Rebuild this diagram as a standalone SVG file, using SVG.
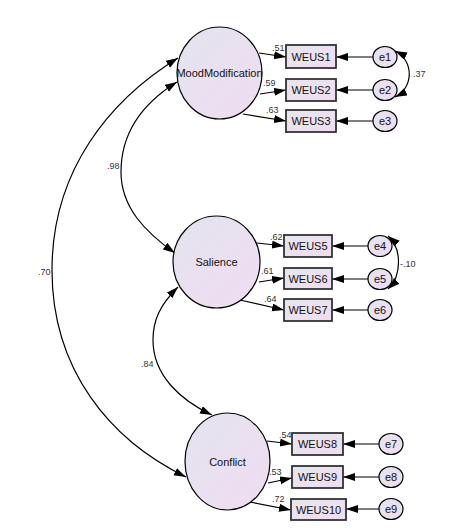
<svg xmlns="http://www.w3.org/2000/svg" width="475" height="531" viewBox="0 0 475 531">
<defs>
<linearGradient id="gl" x1="0" y1="0" x2="1" y2="1">
<stop offset="0" stop-color="#e3e4ee"/>
<stop offset="1" stop-color="#f0dcf2"/>
</linearGradient>
<linearGradient id="gb" x1="0" y1="0" x2="1" y2="1">
<stop offset="0" stop-color="#e6e6ee"/>
<stop offset="1" stop-color="#f0dcf0"/>
</linearGradient>
<marker id="ah" markerUnits="userSpaceOnUse" markerWidth="13" markerHeight="9" refX="12" refY="4" orient="auto-start-reverse">
<path d="M0,0 L12,4 L0,8 z" fill="#000"/>
</marker>
</defs>
<style>
.lat{fill:url(#gl);stroke:#000;stroke-width:1.2}
.err{fill:url(#gl);stroke:#000;stroke-width:1.2}
.box{fill:url(#gb);stroke:#333;stroke-width:1.8}
.t{font-family:"Liberation Sans",Arial,sans-serif;font-size:11px;fill:#111;text-anchor:middle}
.c{font-family:"Liberation Sans",Arial,sans-serif;font-size:9px;fill:#333}
.ln{fill:none;stroke:#000;stroke-width:1.2}
</style>
<rect width="475" height="531" fill="#fff"/>
<g id="connectors">
<path class="ln" marker-start="url(#ah)" marker-end="url(#ah)" d="M178,58 C110,100 52,170 52,270 C52,370 110,440 186,477"/>
<path class="ln" marker-start="url(#ah)" marker-end="url(#ah)" d="M177,82 C140,105 121,135 121,172 C121,207 145,232 175,253"/>
<path class="ln" marker-start="url(#ah)" marker-end="url(#ah)" d="M178,287 C160,305 153,320 153,340 C153,375 180,400 212,415"/>
<path class="ln" marker-end="url(#ah)" d="M259,53 L286,57"/>
<path class="ln" marker-end="url(#ah)" d="M260,94 L286,90"/>
<path class="ln" marker-end="url(#ah)" d="M243,114 L286,121"/>
<path class="ln" marker-end="url(#ah)" d="M257,243 L284,246"/>
<path class="ln" marker-end="url(#ah)" d="M259,282 L284,278"/>
<path class="ln" marker-end="url(#ah)" d="M240,300 L284,310"/>
<path class="ln" marker-end="url(#ah)" d="M267,441 L292,444"/>
<path class="ln" marker-end="url(#ah)" d="M268,483 L292,478"/>
<path class="ln" marker-end="url(#ah)" d="M250,502 L291,510"/>
<path class="ln" marker-end="url(#ah)" d="M373,57 L336,57"/>
<path class="ln" marker-end="url(#ah)" d="M373,90 L336,90"/>
<path class="ln" marker-end="url(#ah)" d="M373,121 L336,121"/>
<path class="ln" marker-end="url(#ah)" d="M368,246 L332,246"/>
<path class="ln" marker-end="url(#ah)" d="M368,279 L332,279"/>
<path class="ln" marker-end="url(#ah)" d="M368,310 L332,310"/>
<path class="ln" marker-end="url(#ah)" d="M379,444 L343,444"/>
<path class="ln" marker-end="url(#ah)" d="M379,477 L343,477"/>
<path class="ln" marker-end="url(#ah)" d="M379,509 L346,509"/>
<path class="ln" marker-start="url(#ah)" marker-end="url(#ah)" d="M395,51 C414,60 414,88 395,97"/>
<path class="ln" marker-start="url(#ah)" marker-end="url(#ah)" d="M388,236 C402,248 402,276 388,289"/>
<text class="c" x="272" y="51">.51</text>
<text class="c" x="263" y="86">.59</text>
<text class="c" x="266" y="113">.63</text>
<text class="c" x="270" y="240">.62</text>
<text class="c" x="261" y="274">.61</text>
<text class="c" x="264" y="302">.64</text>
<text class="c" x="279" y="438">.54</text>
<text class="c" x="269" y="475">.53</text>
<text class="c" x="272" y="502">.72</text>
<text class="c" x="413" y="77">.37</text>
<text class="c" x="400" y="267">-.10</text>
<text class="c" x="107" y="169">.98</text>
<text class="c" x="38" y="275">.70</text>
<text class="c" x="141" y="367">.84</text>
</g>
<g id="MoodModification"><ellipse class="lat" cx="219.5" cy="73" rx="42.5" ry="46"/><text class="t" x="219.5" y="77">MoodModification</text></g>
<g id="Salience"><ellipse class="lat" cx="216.5" cy="262" rx="43.5" ry="46"/><text class="t" x="216.5" y="266">Salience</text></g>
<g id="Conflict"><ellipse class="lat" cx="227.5" cy="461.5" rx="42.5" ry="48.5"/><text class="t" x="227.5" y="466">Conflict</text></g>
<g id="WEUS1"><rect class="box" x="286" y="45" width="50" height="23"/><text class="t" x="311" y="61">WEUS1</text></g>
<g id="WEUS2"><rect class="box" x="286" y="79" width="50" height="22"/><text class="t" x="311" y="94">WEUS2</text></g>
<g id="WEUS3"><rect class="box" x="286" y="110" width="50" height="22"/><text class="t" x="311" y="125">WEUS3</text></g>
<g id="WEUS5"><rect class="box" x="284" y="235" width="48" height="22"/><text class="t" x="308" y="250">WEUS5</text></g>
<g id="WEUS6"><rect class="box" x="284" y="268" width="48" height="21"/><text class="t" x="308" y="283">WEUS6</text></g>
<g id="WEUS7"><rect class="box" x="284" y="299" width="48" height="22"/><text class="t" x="308" y="314">WEUS7</text></g>
<g id="WEUS8"><rect class="box" x="292" y="433" width="51" height="22"/><text class="t" x="317.5" y="448">WEUS8</text></g>
<g id="WEUS9"><rect class="box" x="292" y="466" width="51" height="22"/><text class="t" x="317.5" y="481">WEUS9</text></g>
<g id="WEUS10"><rect class="box" x="291" y="499" width="55" height="21"/><text class="t" x="318.5" y="514">WEUS10</text></g>
<g id="e1"><ellipse class="err" cx="385" cy="57" rx="12" ry="10.5"/><text class="t" x="385" y="61">e1</text></g>
<g id="e2"><ellipse class="err" cx="385" cy="90" rx="12" ry="10.5"/><text class="t" x="385" y="94">e2</text></g>
<g id="e3"><ellipse class="err" cx="385" cy="121" rx="12" ry="10.5"/><text class="t" x="385" y="125">e3</text></g>
<g id="e4"><ellipse class="err" cx="380" cy="246" rx="12" ry="10.5"/><text class="t" x="380" y="250">e4</text></g>
<g id="e5"><ellipse class="err" cx="380" cy="279" rx="12" ry="10.5"/><text class="t" x="380" y="283">e5</text></g>
<g id="e6"><ellipse class="err" cx="380" cy="310" rx="12" ry="10.5"/><text class="t" x="380" y="314">e6</text></g>
<g id="e7"><ellipse class="err" cx="391" cy="444" rx="12" ry="10.5"/><text class="t" x="391" y="448">e7</text></g>
<g id="e8"><ellipse class="err" cx="391" cy="477" rx="12" ry="10.5"/><text class="t" x="391" y="481">e8</text></g>
<g id="e9"><ellipse class="err" cx="391" cy="509" rx="12" ry="10.5"/><text class="t" x="391" y="513">e9</text></g>
</svg>
